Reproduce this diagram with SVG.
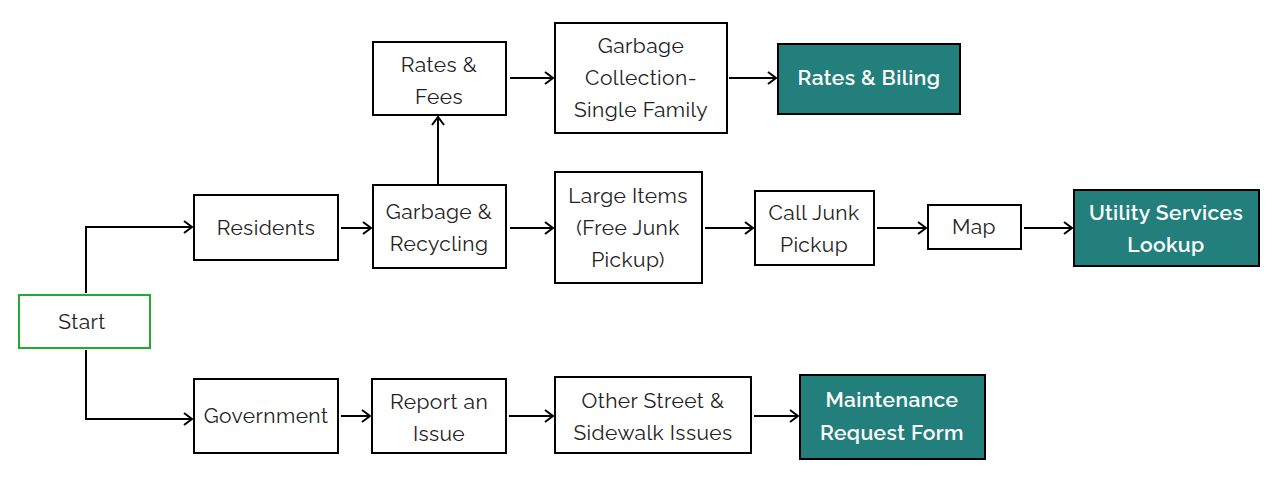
<svg xmlns="http://www.w3.org/2000/svg" width="1277" height="504" viewBox="0 0 1277 504">
<defs>
<marker id="arr" markerWidth="12" markerHeight="14" refX="10" refY="7" orient="auto" markerUnits="userSpaceOnUse">
<path d="M2,1 L10,7 L2,13" fill="none" stroke="#000" stroke-width="2"/>
</marker>
</defs>
<style>
.box{fill:#fff;stroke:#000;stroke-width:2}
.start{fill:#fff;stroke:#22aa33;stroke-width:2}
.teal{fill:#237f7b;stroke:#000;stroke-width:2}
text{font-family:Raleway,Lato,"Open Sans",sans-serif;font-size:21px;letter-spacing:0.4px;fill:#222;text-anchor:middle}
.w{fill:#fff;font-weight:600}
.c{fill:none;stroke:#000;stroke-width:2;marker-end:url(#arr)}
</style>
<rect width="1277" height="504" fill="#fff"/>
<g id="connectors">
<path class="c" d="M86,293 V227 H192"/>
<path class="c" d="M86,350 V419 H192"/>
<path class="c" d="M341,228 H371"/>
<path class="c" d="M438,184 V117"/>
<path class="c" d="M510,78 H553"/>
<path class="c" d="M729,78 H776"/>
<path class="c" d="M510,228 H553"/>
<path class="c" d="M705,228 H753"/>
<path class="c" d="M877,228 H926"/>
<path class="c" d="M1024,228 H1072"/>
<path class="c" d="M341,416 H370"/>
<path class="c" d="M509,416 H553"/>
<path class="c" d="M754,416 H798"/>
</g>
<g id="start"><rect class="start" x="19" y="295" width="131" height="53"/><text x="82" y="329">Start</text></g>
<g id="residents"><rect class="box" x="194" y="195" width="144" height="65"/><text x="266" y="235">Residents</text></g>
<g id="government"><rect class="box" x="194" y="379" width="144" height="74"/><text x="266" y="423">Government</text></g>
<g id="rates-fees"><rect class="box" x="373" y="42" width="133" height="73"/><text x="439" y="72">Rates &amp;</text><text x="439" y="104">Fees</text></g>
<g id="garbage-collection"><rect class="box" x="555" y="23" width="172" height="110"/><text x="641" y="53">Garbage</text><text x="641" y="85">Collection-</text><text x="641" y="117">Single Family</text></g>
<g id="rates-biling"><rect class="teal" x="778" y="44" width="182" height="70"/><text class="w" x="869" y="85">Rates &amp; Biling</text></g>
<g id="garbage-recycling"><rect class="box" x="373" y="185" width="133" height="83"/><text x="439" y="219">Garbage &amp;</text><text x="439" y="251">Recycling</text></g>
<g id="large-items"><rect class="box" x="555" y="172" width="147" height="111"/><text x="628" y="203">Large Items</text><text x="628" y="235">(Free Junk</text><text x="628" y="267">Pickup)</text></g>
<g id="call-junk"><rect class="box" x="755" y="191" width="119" height="74"/><text x="814" y="220">Call Junk</text><text x="814" y="252">Pickup</text></g>
<g id="map"><rect class="box" x="928" y="205" width="93" height="44"/><text x="974" y="234">Map</text></g>
<g id="utility"><rect class="teal" x="1074" y="190" width="185" height="76"/><text class="w" x="1166" y="220">Utility Services</text><text class="w" x="1166" y="252">Lookup</text></g>
<g id="report"><rect class="box" x="372" y="379" width="134" height="74"/><text x="439" y="409">Report an</text><text x="439" y="441">Issue</text></g>
<g id="other-street"><rect class="box" x="555" y="377" width="196" height="76"/><text x="653" y="408">Other Street &amp;</text><text x="653" y="440">Sidewalk Issues</text></g>
<g id="maintenance"><rect class="teal" x="800" y="375" width="185" height="84"/><text class="w" x="892" y="407">Maintenance</text><text class="w" x="892" y="440">Request Form</text></g>
</svg>
